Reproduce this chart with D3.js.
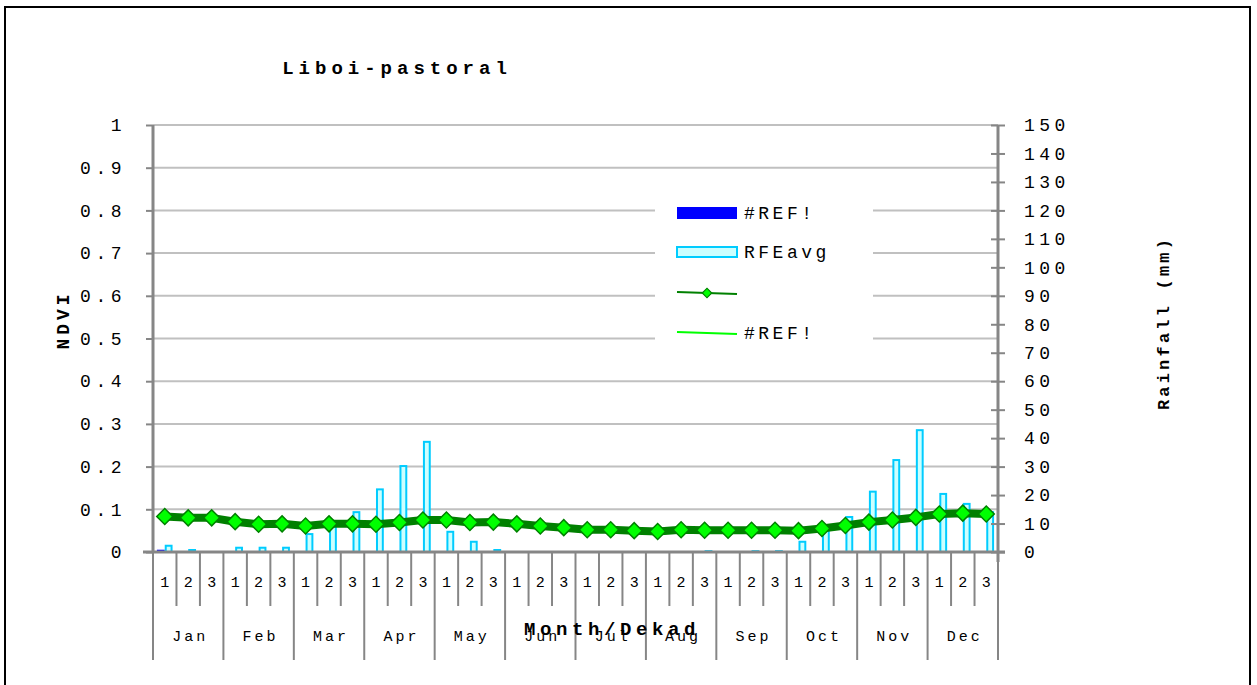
<!DOCTYPE html>
<html>
<head>
<meta charset="utf-8">
<script src="https://cdn.jsdelivr.net/npm/d3@7"></script>
<style>
  html, body { margin: 0; padding: 0; background: #fff; }
  svg { display: block; }
  text { font-family: "Liberation Mono", "Courier New", monospace; fill: #000; }
</style>
</head>
<body>
<svg id="chart" width="1257" height="685"></svg>
<script>
// ---- data ----
const months = ["Jan","Feb","Mar","Apr","May","Jun","Jul","Aug","Sep","Oct","Nov","Dec"];
const dekadLabels = ["1","2","3"];
const ndvi = [0.083,0.080,0.080, 0.071,0.065,0.066, 0.061,0.066,0.066,
              0.065,0.069,0.075, 0.075,0.069,0.070, 0.066,0.061,0.057,
              0.052,0.052,0.050, 0.048,0.052,0.051, 0.051,0.051,0.051,
              0.050,0.055,0.062, 0.070,0.075,0.081, 0.089,0.091,0.089];
const rfeAvg = [2.2,0.7,0, 1.5,1.5,1.5, 6.3,10,14,
                22,30.2,38.7, 7.1,3.6,0.7, 0,0,0,
                0,0,0, 0,0,0.3, 0,0.3,0.3,
                3.6,9,12.3, 21.2,32.3,42.8, 20.4,16.9,14];
const refBars = [0.8,0,0, 0,0,0, 0,0,0, 0,0,0, 0,0,0, 0,0,0,
                 0,0,0, 0,0,0, 0,0,0, 0,0,0, 0,0,0, 0,0,0];
const ndviTicks = [0,0.1,0.2,0.3,0.4,0.5,0.6,0.7,0.8,0.9,1];
const rainTicks = [0,10,20,30,40,50,60,70,80,90,100,110,120,130,140,150];
const titleText = "Liboi-pastoral";
const legendLabels = ["#REF!","RFEavg","","#REF!"];

// ---- layout ----
const L = 153, R = 998, T = 125, B = 552;
const axisGrey = "#868686", gridGrey = "#c0c0c0";
const svg = d3.select("#chart");

const cats = [];
months.forEach((m, mi) => dekadLabels.forEach((d, di) => cats.push({key: m + d, month: m, dek: d, i: mi * 3 + di})));

const x = d3.scaleBand().domain(cats.map(c => c.key)).range([L, R]).paddingInner(0).paddingOuter(0);
const xInner = d3.scaleBand().domain(["ref","rfe"]).range([0, x.bandwidth()]).paddingInner(0).paddingOuter(0.5);
const yL = d3.scaleLinear().domain([0, 1]).range([B, T]);
const yR = d3.scaleLinear().domain([0, 150]).range([B, T]);

// outer border
svg.append("rect").attr("x", 5).attr("y", 7).attr("width", 1245).attr("height", 700)
  .attr("fill", "#fff").attr("stroke", "#000").attr("stroke-width", 2);

// title
svg.append("text").attr("x", 397).attr("y", 74).attr("text-anchor", "middle")
  .attr("font-size", 19).attr("font-weight", "bold").attr("letter-spacing", 5)
  .text(titleText);

// gridlines
svg.append("g").selectAll("line").data(ndviTicks.filter(t => t > 0)).join("line")
  .attr("x1", L).attr("x2", R).attr("y1", d => yL(d)).attr("y2", d => yL(d))
  .attr("stroke", gridGrey).attr("stroke-width", 2);

// bars
const barG = svg.append("g");
barG.selectAll("rect.ref").data(cats).join("rect").attr("class", "ref")
  .attr("x", c => x(c.key) + xInner("ref")).attr("width", xInner.bandwidth())
  .attr("y", c => yR(refBars[c.i])).attr("height", c => B - yR(refBars[c.i]))
  .attr("fill", "#0000ff");
barG.selectAll("rect.rfe").data(cats.filter(c => rfeAvg[c.i] > 0)).join("rect").attr("class", "rfe")
  .attr("x", c => x(c.key) + xInner("rfe") + 1).attr("width", xInner.bandwidth() - 2)
  .attr("y", c => yR(rfeAvg[c.i])).attr("height", c => Math.max(0, B - yR(rfeAvg[c.i])))
  .attr("fill", "#ccffff").attr("stroke", "#00ccff").attr("stroke-width", 2);

// NDVI line
const cx = c => x(c.key) + x.bandwidth() / 2;
const line = d3.line().x(c => cx(c)).y(c => yL(ndvi[c.i]));
svg.append("path").datum(cats).attr("d", line).attr("fill", "none")
  .attr("stroke", "#008000").attr("stroke-width", 8).attr("stroke-linejoin", "round");
svg.append("g").selectAll("path").data(cats).join("path")
  .attr("d", d3.symbol().type(d3.symbolSquare).size(128))
  .attr("transform", c => `translate(${cx(c)},${yL(ndvi[c.i])}) rotate(45)`)
  .attr("fill", "#00ff00").attr("stroke", "#008000").attr("stroke-width", 1.5);

// legend
const lg = svg.append("g");
lg.append("rect").attr("x", 655).attr("y", 190).attr("width", 218).attr("height", 163).attr("fill", "#fff");
const legY = [213, 252, 293, 333];
lg.append("rect").attr("x", 677).attr("y", legY[0] - 6).attr("width", 60).attr("height", 12).attr("fill", "#0000ff");
lg.append("rect").attr("x", 677).attr("y", legY[1] - 5).attr("width", 60).attr("height", 10)
  .attr("fill", "#ccffff").attr("stroke", "#00ccff").attr("stroke-width", 2);
lg.append("line").attr("x1", 677).attr("x2", 737).attr("y1", legY[2] - 1).attr("y2", legY[2] + 1)
  .attr("stroke", "#008000").attr("stroke-width", 2);
lg.append("path").attr("transform", `translate(707,${legY[2]}) rotate(45)`)
  .attr("d", d3.symbol().type(d3.symbolSquare).size(45))
  .attr("fill", "#00ff00").attr("stroke", "#008000").attr("stroke-width", 1.2);
lg.append("line").attr("x1", 677).attr("x2", 737).attr("y1", legY[3] - 1).attr("y2", legY[3] + 1)
  .attr("stroke", "#00ff00").attr("stroke-width", 2);
lg.selectAll("text").data(legendLabels).join("text")
  .attr("x", 744).attr("y", (d, i) => legY[i]).attr("dy", "0.35em")
  .attr("font-size", 18).attr("letter-spacing", 3.5).text(d => d);

// left axis
const leftAxis = svg.append("g").attr("transform", `translate(${L},0)`)
  .call(d3.axisLeft(yL).tickValues(ndviTicks).tickSize(7).tickPadding(20)
    .tickFormat(d => d === 0 ? "0" : d === 1 ? "1" : d3.format(".1f")(d)));
leftAxis.select(".domain").attr("stroke", axisGrey).attr("stroke-width", 3).attr("d", `M0,${T}V${B}`);
leftAxis.selectAll(".tick line").attr("stroke", axisGrey).attr("stroke-width", 2);
leftAxis.selectAll(".tick text").attr("font-size", 18).attr("letter-spacing", 4.5)
  .attr("font-family", "Liberation Mono, Courier New, monospace").attr("fill", "#000");

// right axis
const rightAxis = svg.append("g").attr("transform", `translate(${R},0)`)
  .call(d3.axisRight(yR).tickValues(rainTicks).tickSizeInner(7).tickSizeOuter(0).tickPadding(19));
rightAxis.select(".domain").attr("stroke", axisGrey).attr("stroke-width", 3).attr("d", `M0,${T}V${B + 10}`);
rightAxis.selectAll(".tick line").attr("stroke", axisGrey).attr("stroke-width", 2).attr("x1", -7);
rightAxis.selectAll(".tick text").attr("font-size", 18).attr("letter-spacing", 4.5)
  .attr("font-family", "Liberation Mono, Courier New, monospace").attr("fill", "#000");

// category axis (two levels)
const catG = svg.append("g");
catG.append("line").attr("x1", L - 10).attr("x2", R + 7).attr("y1", B).attr("y2", B)
  .attr("stroke", axisGrey).attr("stroke-width", 3);
const boundaries = d3.range(37);
catG.selectAll("line.sep").data(boundaries).join("line").attr("class", "sep")
  .attr("x1", i => i < 36 ? x(cats[i].key) : R).attr("x2", i => i < 36 ? x(cats[i].key) : R)
  .attr("y1", B).attr("y2", i => (i % 3 === 0) ? 660 : 606)
  .attr("stroke", axisGrey).attr("stroke-width", 2);
catG.selectAll("text.dek").data(cats).join("text").attr("class", "dek")
  .attr("x", c => cx(c)).attr("y", 582).attr("dy", "0.35em").attr("text-anchor", "middle")
  .attr("font-size", 15).text(c => c.dek);
catG.selectAll("text.mon").data(months).join("text").attr("class", "mon")
  .attr("x", (m, i) => x(cats[i * 3 + 1].key) + x.bandwidth() / 2 + 2).attr("y", 636).attr("dy", "0.35em")
  .attr("text-anchor", "middle").attr("font-size", 15).attr("letter-spacing", 3).text(m => m);

// axis titles
svg.append("text").attr("transform", "translate(69,320) rotate(-90)").attr("text-anchor", "middle")
  .attr("font-size", 18).attr("font-weight", "bold").attr("letter-spacing", 4).text("NDVI");
svg.append("text").attr("transform", "translate(1169,323) rotate(-90)").attr("text-anchor", "middle")
  .attr("font-size", 17).attr("font-weight", "bold").attr("letter-spacing", 3.2).text("Rainfall (mm)");
svg.append("text").attr("x", 612).attr("y", 628).attr("dy", "0.35em").attr("text-anchor", "middle")
  .attr("font-size", 19).attr("font-weight", "bold").attr("letter-spacing", 4.6).text("Month/Dekad");
</script>
</body>
</html>
